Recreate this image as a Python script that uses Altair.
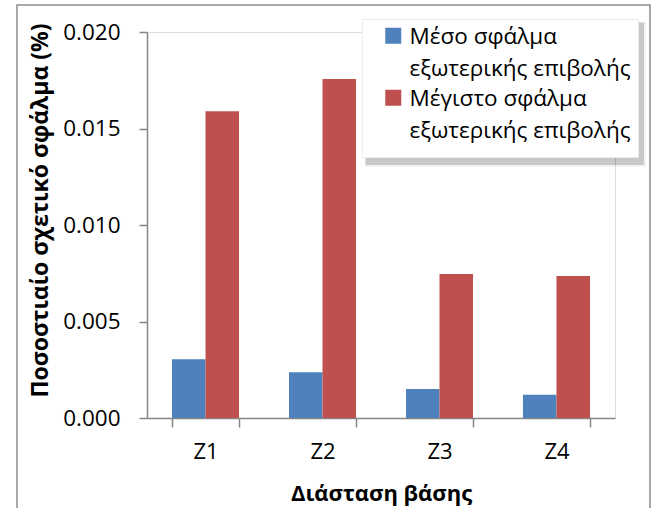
import altair as alt
import pandas as pd

# Base dimensions (Z1..Z4) and the two error series, in percent
categories = ["Z1", "Z2", "Z3", "Z4"]
series_names = [
    "Μέσο σφάλμα εξωτερικής επιβολής",
    "Μέγιστο σφάλμα εξωτερικής επιβολής",
]
mean_error = [0.00304, 0.00237, 0.00150, 0.00120]
max_error = [0.01590, 0.01757, 0.00746, 0.00736]
series_colors = ["#4F81BD", "#C0504D"]
y_ticks = [0.000, 0.005, 0.010, 0.015, 0.020]

rows = []
for cat, m_val, x_val in zip(categories, mean_error, max_error):
    rows.append({"dim": cat, "series": series_names[0], "value": m_val})
    rows.append({"dim": cat, "series": series_names[1], "value": x_val})
df = pd.DataFrame(rows)

FONT = "Open Sans"
GRAY = "#868686"

# square legend swatch, nudged up slightly; the trailing move-to reserves
# room below each entry for its two-line label (it draws nothing)
swatch = "M-1,-1.2H1V0.8H-1Z M0,6.25"

bars = alt.Chart(df).mark_bar().encode(
    x=alt.X(
        "dim:N",
        sort=categories,
        title="Διάσταση βάσης",
        scale=alt.Scale(paddingInner=0.427, paddingOuter=0.2137),
        axis=alt.Axis(
            labelAngle=0,
            tickBand="extent",
            tickSize=9,
            tickColor=GRAY,
            tickWidth=1.5,
            domainColor=GRAY,
            domainWidth=1.5,
            labelFont=FONT,
            labelFontSize=22,
            labelColor="black",
            labelPadding=14,
            titleFont=FONT,
            titleFontSize=22,
            titleFontWeight="bold",
            titleColor="black",
            titleX=234,
            titleY=82,
            titleAlign="center",
            titleBaseline="alphabetic",
        ),
    ),
    xOffset=alt.XOffset(
        "series:N",
        sort=series_names,
        scale=alt.Scale(paddingInner=0, paddingOuter=0),
    ),
    y=alt.Y(
        "value:Q",
        title="Ποσοστιαίο σχετικό σφάλμα (%)",
        scale=alt.Scale(domain=[0, 0.02], nice=False),
        axis=alt.Axis(
            values=y_ticks,
            format=".3f",
            grid=False,
            tickSize=8,
            tickColor=GRAY,
            tickWidth=1.5,
            domainColor=GRAY,
            domainWidth=1.5,
            labelFont=FONT,
            labelFontSize=22.5,
            labelColor="black",
            labelPadding=19,
            titleFont=FONT,
            titleFontSize=23,
            titleFontWeight="bold",
            titleColor="black",
            titleAngle=270,
            titleX=-107,
            titleY=178,
            titleAlign="center",
            titleBaseline="middle",
        ),
    ),
    color=alt.Color(
        "series:N",
        sort=series_names,
        scale=alt.Scale(domain=series_names, range=series_colors),
        legend=alt.Legend(
            title=None,
            orient="none",
            legendX=215,
            legendY=-13,
            symbolType=swatch,
            symbolSize=256,
            symbolStrokeWidth=0,
            symbolOffset=13,
            labelFont=FONT,
            labelFontSize=22.5,
            labelColor="black",
            labelLimit=400,
            labelOffset=5,
            labelExpr="[substring(datum.label, 0, indexof(datum.label, 'εξωτ') - 1), substring(datum.label, indexof(datum.label, 'εξωτ'))]",
            padding=7,
            rowPadding=0,
            fillColor="white",
            strokeColor="#ececec",
        ),
    ),
)

# soft drop shadow under the legend box
shadow_df = pd.DataFrame({"k": [0]})
shadow_layers = [
    alt.Chart(shadow_df).mark_rect(fill="#000000", opacity=op).encode(
        x=alt.value(215 + d), x2=alt.value(493 + d + g),
        y=alt.value(-13 + d), y2=alt.value(129 + d + g),
    )
    for d, g, op in [(3, 3, 0.05), (3, 1, 0.08), (4, 0, 0.10)]
]

# outer chart frame
frame = alt.Chart(shadow_df).mark_rect(
    fillOpacity=0, stroke="#8c8c8c", strokeWidth=1.5
).encode(
    x=alt.value(-130), x2=alt.value(503), y=alt.value(-27), y2=alt.value(520)
)

chart = (
    alt.layer(frame, *shadow_layers, bars)
    .properties(
        width=468,
        height=386,
        autosize=alt.AutoSizeParams(type="none"),
        padding={"left": 147, "top": 32, "right": 39, "bottom": 90},
    )
    .configure_view(stroke=None)
    .configure(style={"guide-label": {"lineHeight": 32}})
)

chart.save("out.html", embed_options={"renderer": "svg", "actions": False})
